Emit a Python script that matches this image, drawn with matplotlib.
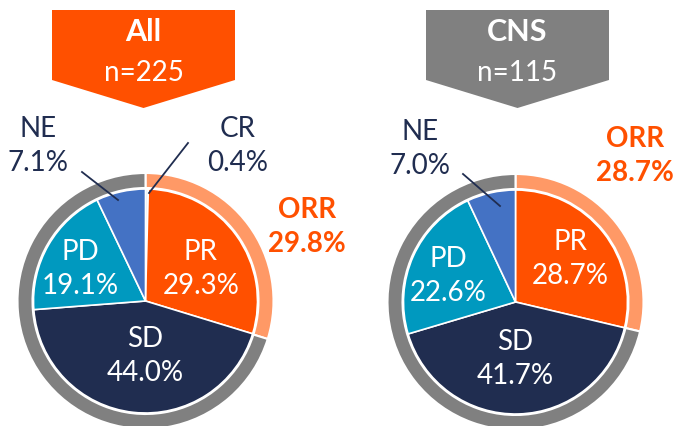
import matplotlib
matplotlib.use("Agg")
import matplotlib.pyplot as plt
from matplotlib.patches import Polygon

plt.rcParams["font.family"] = ["Lato", "DejaVu Sans"]

# data
all_labels = ["CR", "PR", "SD", "PD", "NE"]
all_values = [0.4, 29.3, 44.0, 19.1, 7.1]
all_orr = 29.8
all_n = 225

cns_labels = ["PR", "SD", "PD", "NE"]
cns_values = [28.7, 41.7, 22.6, 7.0]
cns_orr = 28.7
cns_n = 115

COLORS = {
    "CR": "#DCE9F5",
    "PR": "#FF5000",
    "SD": "#202D50",
    "PD": "#0099BF",
    "NE": "#4472C4",
}
ORR_RING = "#FF9966"
GRAY = "#808080"
NAVY = "#202D50"
ORANGE = "#FF5000"

W, H = 679, 426
fig = plt.figure(figsize=(W / 100, H / 100), dpi=100)
ax = fig.add_axes([0, 0, 1, 1])


def Y(py):
    return H - py


def draw_pie(cx, cy, labels, values, orr):
    # outer ring: ORR vs rest
    ax.pie([orr, 100 - orr], colors=[ORR_RING, GRAY], startangle=90, counterclock=False,
           center=(cx, Y(cy)), radius=128, wedgeprops=dict(width=15, edgecolor="white", linewidth=1.5))
    ax.pie(values, colors=[COLORS[l] for l in labels], startangle=90, counterclock=False,
           center=(cx, Y(cy)), radius=112, wedgeprops=dict(edgecolor="white", linewidth=1.2))


def header(x0, x1, top, shoulder, tip, color, title, n):
    xm = (x0 + x1) / 2
    pts = [(x0, Y(top)), (x1, Y(top)), (x1, Y(shoulder)), (xm, Y(tip)), (x0, Y(shoulder))]
    ax.add_patch(Polygon(pts, closed=True, facecolor=color, edgecolor="none"))
    ax.text(xm, Y(32), title, ha="center", va="center", fontsize=22, fontweight="bold", color="white")
    ax.text(xm, Y(73), f"n={n}", ha="center", va="center", fontsize=20, color="white")


def label(x, y, text, color="white", bold=False):
    ax.text(x, Y(y), text, ha="center", va="center", fontsize=20, color=color,
            fontweight="bold" if bold else "normal", linespacing=1.35)


# ---- All ----
draw_pie(145.5, 301, all_labels, all_values, all_orr)
header(52, 235, 10, 80, 108, ORANGE, "All", all_n)
label(201, 269, f"PR\n{all_values[1]:.1f}%")
label(145, 356, f"SD\n{all_values[2]:.1f}%")
label(80, 269, f"PD\n{all_values[3]:.1f}%")
label(38, 146, f"NE\n{all_values[4]:.1f}%", color=NAVY)
label(238, 146, f"CR\n{all_values[0]:.1f}%", color=NAVY)
label(307, 227, f"ORR\n{all_orr:.1f}%", color=ORANGE, bold=True)
ax.plot([82, 118], [Y(172), Y(200)], color=NAVY, lw=1.3)
ax.plot([188, 149], [Y(143), Y(193)], color=NAVY, lw=1.3)

# ---- CNS ----
draw_pie(515.5, 302, cns_labels, cns_values, cns_orr)
header(426, 609, 10, 80, 108, GRAY, "CNS", cns_n)
label(570, 259, f"PR\n{cns_values[0]:.1f}%")
label(515, 359, f"SD\n{cns_values[1]:.1f}%")
label(448, 276, f"PD\n{cns_values[2]:.1f}%")
label(420, 149, f"NE\n{cns_values[3]:.1f}%", color=NAVY)
label(635, 156, f"ORR\n{cns_orr:.1f}%", color=ORANGE, bold=True)
ax.plot([463, 500], [Y(174), Y(206)], color=NAVY, lw=1.3)

ax.set_xlim(0, W)
ax.set_ylim(0, H)
ax.set_aspect("equal")
ax.axis("off")

fig.savefig("out.png", dpi=100)
